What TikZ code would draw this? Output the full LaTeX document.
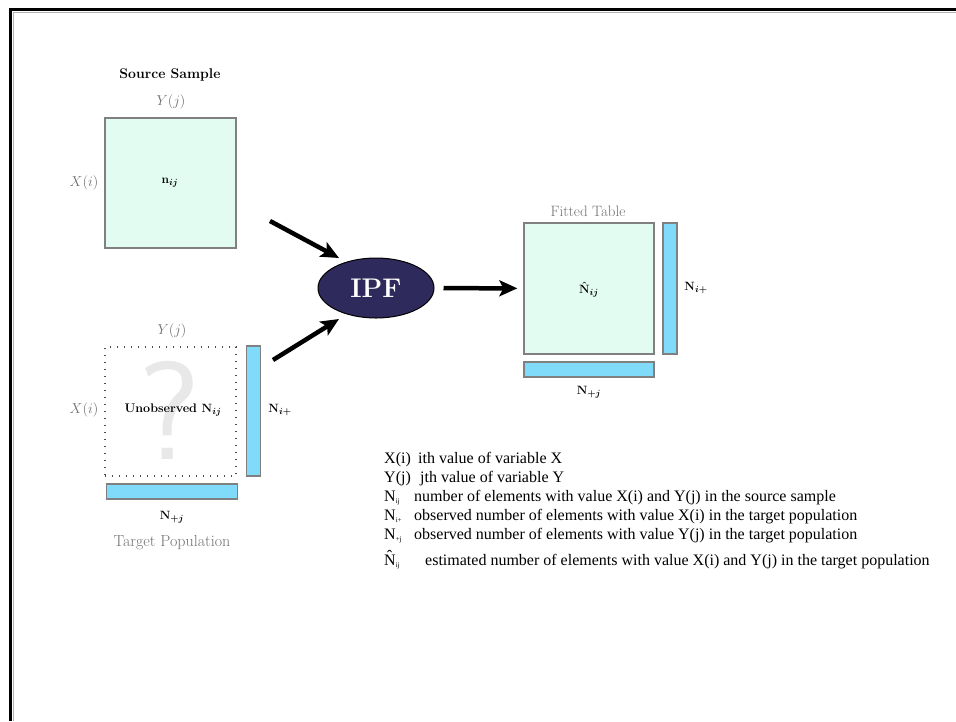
\documentclass[tikz,border=0pt]{standalone}
\usepackage{fontspec}
\newfontfamily\legendfont{Liberation Serif}
\usetikzlibrary{arrows.meta,shapes.geometric}
\definecolor{mint}{HTML}{E3FCF2}
\definecolor{barblue}{HTML}{7FDBF9}
\definecolor{ipfnavy}{HTML}{2E2A5B}
\definecolor{lblgray}{HTML}{707070}
\definecolor{qgray}{HTML}{E8E8E8}
\definecolor{edgegray}{HTML}{808080}
\newcommand{\lsub}[1]{\raisebox{-2.5pt}{\fontsize{7}{8}\selectfont #1}}
\tikzset{
  tablebox/.style={draw=edgegray, line width=1.3pt, fill=mint, inner sep=0pt, minimum width=131pt, minimum height=130pt},
  dotbox/.style={draw=black!70, line width=1.4pt, dash pattern=on 1.4pt off 5.6pt, inner sep=0pt, minimum width=131pt, minimum height=129pt},
  vbar/.style={draw=edgegray, line width=1.3pt, fill=barblue, inner sep=0pt, minimum width=14pt, minimum height=130pt},
  hbar/.style={draw=edgegray, line width=1.3pt, fill=barblue, inner sep=0pt, minimum width=131pt, minimum height=15pt},
  lbl/.style={inner sep=0pt, font=\fontsize{16}{18}\selectfont},
  glbl/.style={lbl, text=lblgray},
  mlbl/.style={glbl, font=\fontsize{13.5}{16}\selectfont},
  inlbl/.style={inner sep=0pt, font=\fontsize{12.5}{14}\selectfont\bfseries\boldmath},
  bigarrow/.style={line width=4.5pt, -{Stealth[length=18pt,width=16pt,inset=4pt]}},
  legend/.style={inner sep=0pt, anchor=base west, font=\legendfont\fontsize{16}{18}\selectfont},
}
\begin{document}
\begin{tikzpicture}[x=1pt,y=-1pt]
\useasboundingbox (0,0) rectangle (956,721);
% frame
\draw[gray!60, line width=1pt] (13.5,721) -- (13.5,12) -- (956,12);
\draw[line width=3pt] (10.5,721) -- (10.5,9) -- (956,9);

% source sample
\node[lbl, font=\fontsize{14}{16}\selectfont\bfseries] (srclabel) at (170,75) {Source Sample};
\node[mlbl] (srcy) at (171,102) {$Y(j)$};
\node[tablebox] (src) at (170.5,183) {};
\node[mlbl] (srcx) at (84,183) {$X(i)$};
\node[inlbl] (nij) at (170,183) {$\mathbf{n}_{ij}$};

% target population
\node[mlbl] (tgty) at (172,331) {$Y(j)$};
\node[dotbox] (tgt) at (170.5,411.5) {};
\node[inner sep=0pt, text=qgray, font=\sffamily\fontsize{140}{140}\selectfont] (qmark) at (170,410) {?};
\node[inlbl] (unobs) at (173,410) {Unobserved $\mathbf{N}_{ij}$};
\node[mlbl] (tgtx) at (84,410) {$X(i)$};
\node[vbar] (tgtv) at (253.5,411) {};
\node[inlbl] (tgtni) at (280,410) {$\mathbf{N}_{i+}$};
\node[hbar] (tgth) at (172,491.5) {};
\node[inlbl] (tgtnj) at (172,517) {$\mathbf{N}_{+j}$};
\node[glbl] (tgtlabel) at (172,543) {Target Population};

% IPF
\node[ellipse, draw=black, line width=1pt, fill=ipfnavy, minimum width=116pt, minimum height=60pt, inner sep=0pt,
      text=white, font=\fontsize{27}{30}\selectfont\bfseries] (ipf) at (376,288) {IPF};

% fitted table
\node[glbl, font=\fontsize{15}{17}\selectfont] (fitlabel) at (588,211) {Fitted Table};
\node[tablebox, minimum width=130pt, minimum height=131pt] (fit) at (589,288.5) {};
\node[inlbl] (nhat) at (589,290) {$\hat{\mathbf{N}}_{ij}$};
\node[vbar, minimum height=131pt] (fitv) at (670,288.5) {};
\node[inlbl] (fitni) at (696,288) {$\mathbf{N}_{i+}$};
\node[hbar, minimum width=130pt] (fith) at (589,369.5) {};
\node[inlbl] (fitnj) at (589,392) {$\mathbf{N}_{+j}$};

% arrows
\coordinate (a1s) at (270,221);
\coordinate (a1e) at (339,258);
\coordinate (a2s) at (273,360);
\coordinate (a2e) at (339,319);
\draw[bigarrow] (a1s) -- (a1e);
\draw[bigarrow] (a2s) -- (a2e);
\draw[bigarrow, shorten <=9pt, shorten >=6pt] (ipf) -- (fit);

% legend
\node[legend] (l1a) at (384,463) {X(i)};
\node[legend] (l1b) at (418,463) {ith value of variable X};
\node[legend] (l2a) at (384,482) {Y(j)};
\node[legend] (l2b) at (420,482) {jth value of variable Y};
\node[legend] (l3a) at (384,501) {N\lsub{ij}};
\node[legend] (l3b) at (414,501) {number of elements with value X(i) and Y(j) in the source sample};
\node[legend] (l4a) at (384,520) {N\lsub{i+}};
\node[legend] (l4b) at (414,520) {observed number of elements with value X(i) in the target population};
\node[legend] (l5a) at (384,539) {N\lsub{+j}};
\node[legend] (l5b) at (414,539) {observed number of elements with value Y(j) in the target population};
\node[legend] (l6a) at (384,565) {\^{N}\lsub{ij}};
\node[legend] (l6b) at (425,565) {estimated number of elements with value X(i) and Y(j) in the target population};
\end{tikzpicture}
\end{document}
